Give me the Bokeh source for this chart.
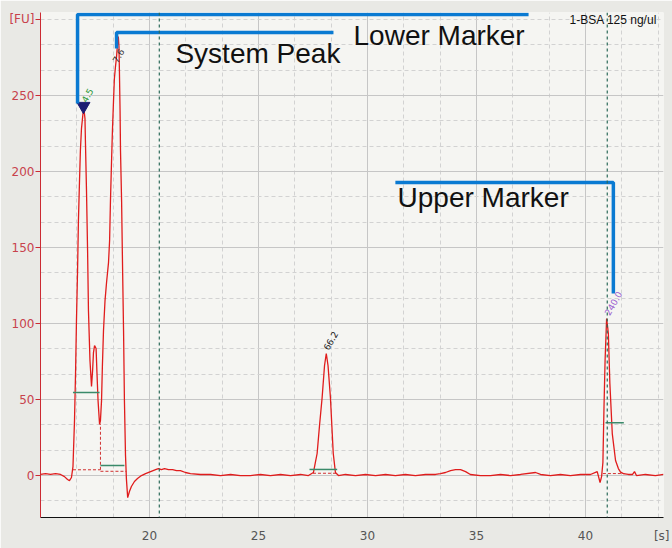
from bokeh.plotting import figure
from bokeh.models import Range1d, FixedTicker, Span
from bokeh.core.properties import value
from bokeh.embed import file_html
from bokeh.resources import INLINE

# ---- electropherogram trace (time [s], fluorescence [FU]) ----
time_s = [15.00, 15.23, 15.46, 15.69, 15.92, 16.10, 16.24, 16.33, 16.42, 16.49,
          16.56, 16.61, 16.65, 16.70, 16.74, 16.79, 16.83, 16.88, 16.95, 17.00,
          17.04, 17.06, 17.11, 17.16, 17.20, 17.27, 17.34, 17.39, 17.43, 17.48,
          17.55, 17.59, 17.64, 17.71, 17.75, 17.80, 17.84, 17.89, 17.96, 18.03,
          18.12, 18.17, 18.21, 18.26, 18.30, 18.35, 18.39, 18.44, 18.49, 18.53,
          18.57, 18.60, 18.62, 18.65, 18.67, 18.72, 18.76, 18.81, 18.85, 18.90,
          18.94, 19.00, 19.08, 19.17, 19.31, 19.45, 19.63, 19.82, 20.05, 20.28,
          20.41, 20.55, 20.69, 20.87, 21.06, 21.24, 21.42, 21.65, 21.88, 22.34,
          22.80, 23.26, 23.72, 24.17, 24.63, 25.09, 25.55, 26.01, 26.47, 26.93,
          27.29, 27.52, 27.61, 27.69, 27.80, 27.92, 28.03, 28.11, 28.19, 28.30,
          28.43, 28.53, 28.67, 28.99, 29.45, 29.91, 30.37, 30.83, 31.28, 31.74,
          32.20, 32.66, 33.12, 33.35, 33.58, 33.81, 34.04, 34.27, 34.50, 34.72,
          35.18, 35.64, 36.10, 36.56, 37.02, 37.71, 37.94, 38.39, 38.85, 39.31,
          39.77, 40.23, 40.54, 40.60, 40.67, 40.74, 40.80, 40.85, 40.90, 40.97,
          41.01, 41.05, 41.12, 41.23, 41.38, 41.51, 41.61, 41.74, 41.97, 42.16,
          42.25, 42.34, 42.75, 43.21, 43.58]
fu = [0.7, 1.3, 0.7, 1.3, 0.7, -0.7, -2.6, -3.3, -1.3, 5.9,
      36.2, 69.1, 102.0, 134.9, 167.8, 194.1, 213.8, 228.3, 238.2, 240.1,
      234.9, 220.4, 187.5, 148.0, 108.6, 75.7, 58.6, 69.1, 80.9, 85.5,
      83.6, 67.8, 49.3, 33.6, 36.2, 49.3, 72.4, 95.4, 115.1, 127.0,
      140.1, 154.6, 180.9, 207.2, 227.0, 246.7, 261.2, 269.1, 275.7, 283.6,
      288.8, 282.2, 266.4, 240.1, 213.8, 180.9, 141.4, 95.4, 49.3, 13.2,
      -2.0, -14.5, -10.5, -7.2, -3.9, -2.0, 0.0, 1.3, 2.6, 3.9,
      4.6, 3.9, 4.6, 3.9, 3.9, 3.3, 3.3, 2.0, 1.3, 0.7,
      0.7, 0.0, 0.7, 0.0, 0.0, 0.7, 0.0, 0.7, 0.0, 0.7,
      0.0, 2.0, 8.6, 14.5, 32.9, 51.3, 72.4, 80.3, 72.4, 51.3,
      14.5, 2.0, 0.0, 0.7, 0.0, 0.7, 0.0, 0.7, 0.0, 0.7,
      0.0, 0.7, 0.7, 1.3, 2.0, 3.3, 3.9, 3.9, 2.6, 0.7,
      0.0, 0.0, 0.7, 0.0, 0.7, 2.0, 0.7, 0.0, 0.7, 0.0,
      0.7, 0.7, 2.6, -0.7, -4.6, -0.7, 8.6, 44.7, 75.7, 103.3,
      98.7, 93.4, 60.5, 27.6, 9.9, 4.6, 2.2, 1.3, 0.7, 0.7,
      2.6, 0.0, 0.7, 0.0, 0.7]

# ---- peak integration baselines (dashed red) ----
base_x0 = [16.49, 17.75, 27.50, 40.80]
base_x1 = [17.75, 18.94, 28.58, 41.80]
base_y = [3.8, 2.8, 1.5, 1.3]
split_x = [17.75]
split_y0 = [3.8]
split_y1 = [34.0]

# ---- half-height markers (green) ----
half_x0 = [16.49, 17.75, 27.34, 40.92]
half_x1 = [17.71, 18.85, 28.61, 41.76]
half_y = [54.6, 6.6, 4.0, 34.7]

# ---- peak size labels ----
peak_lbl_x = [16.98, 18.40, 28.08, 40.98]
peak_lbl_y = [246.0, 272.0, 83.0, 106.0]
peak_lbl = ["4.5", "7.6", "66.2", "240.0"]
peak_lbl_col = ["#2e9a3a", "#333333", "#222222", "#9a5fd0"]

# lower marker triangle
tri_x = [16.97]
tri_y = [243.0]

# marker windows (dashed green verticals)
window_x = [20.45, 41.00]

# axis ticks and unit labels
x_ticks = [20, 25, 30, 35, 40]
x_minor = [16.667, 18.333, 21.667, 23.333, 26.667, 28.333, 31.667, 33.333,
           36.667, 38.333, 41.667, 43.333]
y_ticks = [0, 50, 100, 150, 200, 250]
y_minor = [-16.667, 16.667, 33.333, 66.667, 83.333, 116.667, 133.333, 166.667,
           183.333, 216.667, 233.333, 266.667, 283.333, 300]
x_unit_pos = 43.5
x_unit = "[s]"
y_unit_pos = 300
y_unit = "[FU]"

# sample title
sample_name = "1-BSA 125 ng/ul"
sample_x = [43.28]
sample_y = [299.5]

# ---- callout annotations ----
lm_line_x = [16.70, 16.70, 37.39]
lm_line_y = [244.7, 303.3, 303.3]
sp_line_x = [18.49, 18.49, 28.44]
sp_line_y = [280.9, 291.4, 291.4]
um_line_x = [31.28, 41.28, 41.28]
um_line_y = [192.8, 192.8, 119.7]
callout_text = ["Lower Marker", "System Peak", "Upper Marker"]
callout_x = [29.36, 21.19, 31.38]
callout_y = [289.5, 277.6, 182.9]

p = figure(width=672, height=548, output_backend="svg", toolbar_location=None,
           x_range=Range1d(15.0, 43.58), y_range=Range1d(-27.6, 304.6),
           min_border_left=40, min_border_right=9, min_border_top=12,
           min_border_bottom=31)
p.background_fill_color = "#f5f5f2"
p.border_fill_color = "#e9e9e5"
p.outline_line_color = None

p.xaxis.ticker = FixedTicker(ticks=x_ticks + [x_unit_pos])
p.yaxis.ticker = FixedTicker(ticks=y_ticks + [y_unit_pos])
p.xaxis.major_label_overrides = {x_unit_pos: x_unit}
p.yaxis.major_label_overrides = {y_unit_pos: y_unit}
p.xgrid.ticker = FixedTicker(ticks=x_ticks, minor_ticks=x_minor)
p.ygrid.ticker = FixedTicker(ticks=y_ticks, minor_ticks=y_minor)

p.xgrid.grid_line_color = "#c6c6c6"
p.ygrid.grid_line_color = "#c6c6c6"
p.xgrid.minor_grid_line_color = "#d2d2d2"
p.ygrid.minor_grid_line_color = "#d2d2d2"
p.xgrid.minor_grid_line_dash = "4 3"
p.ygrid.minor_grid_line_dash = "4 3"

p.xaxis.axis_line_color = "#111111"
p.xaxis.major_tick_line_color = None
p.xaxis.major_tick_out = 0
p.xaxis.minor_tick_line_color = None
p.xaxis.major_label_text_color = "#555555"
p.xaxis.major_label_text_font = "DejaVu Sans"
p.xaxis.major_label_text_font_size = "12px"
p.xaxis.major_label_standoff = 11

p.yaxis.axis_line_color = "#cc2b33"
p.yaxis.major_tick_line_color = "#cc2b33"
p.yaxis.major_tick_out = 5
p.yaxis.major_tick_in = 0
p.yaxis.minor_tick_line_color = None
p.yaxis.major_label_text_color = "#c8424c"
p.yaxis.major_label_text_font = "DejaVu Sans"
p.yaxis.major_label_text_font_size = "12px"
p.yaxis.major_label_standoff = 1

for wx in window_x:
    p.add_layout(Span(location=wx, dimension="height", line_color="#2d6b5a",
                      line_dash="3 3", line_width=1.2))

p.segment(x0=base_x0, y0=base_y, x1=base_x1, y1=base_y, line_color="#d03030",
          line_dash="3 2", line_width=1)
p.segment(x0=split_x, y0=split_y0, x1=split_x, y1=split_y1, line_color="#d03030",
          line_dash="3 2", line_width=1)

p.line(time_s, fu, line_color="#e01c1c", line_width=1.3)

p.segment(x0=half_x0, y0=half_y, x1=half_x1, y1=half_y, line_color="#3a8a6a",
          line_width=1.5)

p.scatter(tri_x, tri_y, marker="inverted_triangle", size=13, color="#1c1c72")

p.text(x=peak_lbl_x, y=peak_lbl_y, text=peak_lbl, angle=1.05,
       text_color=peak_lbl_col, text_font=value("DejaVu Sans"),
       text_font_size="9px", text_align="left", text_baseline="middle")

for lx, ly in ((lm_line_x, lm_line_y), (sp_line_x, sp_line_y), (um_line_x, um_line_y)):
    p.line(lx, ly, line_color="#0a7ad2", line_width=3.5)

p.text(x=callout_x, y=callout_y, text=callout_text, text_color="#111111",
       text_font=value("Liberation Sans"), text_font_size="28px",
       text_align="left", text_baseline="middle")

p.text(x=sample_x, y=sample_y, text=[sample_name], text_color="#111111",
       text_font=value("Liberation Sans"), text_font_size="12px",
       text_align="right", text_baseline="middle")

open("out.html", "w").write(file_html(p, INLINE))
